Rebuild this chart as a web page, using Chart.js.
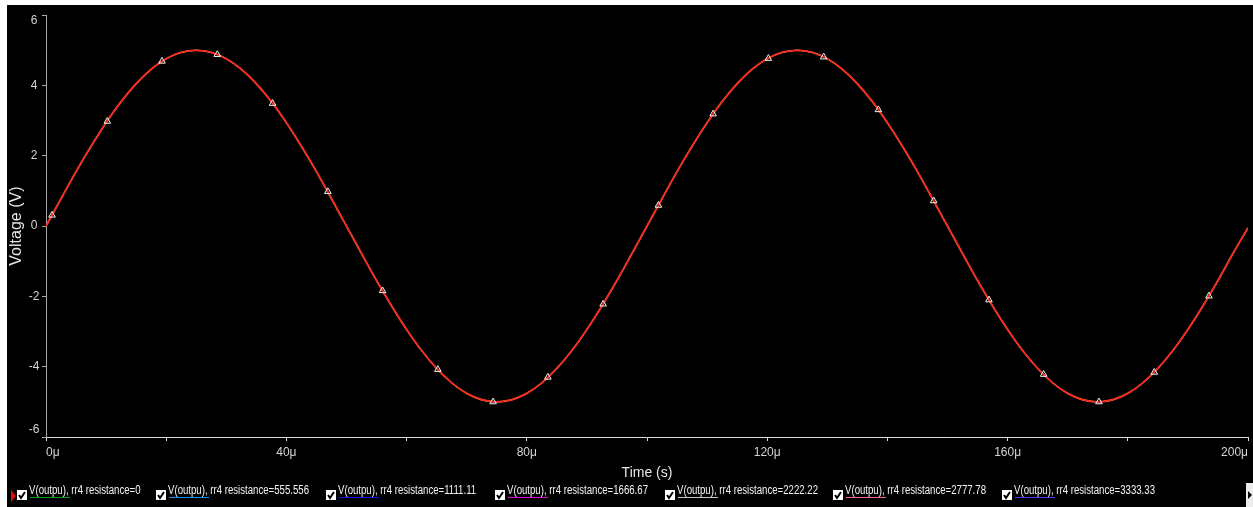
<!DOCTYPE html>
<html>
<head>
<meta charset="utf-8">
<script src="https://cdn.jsdelivr.net/npm/chart.js@4/dist/chart.umd.min.js"></script>
<style>
  html, body { margin: 0; padding: 0; background: #ffffff; width: 1253px; height: 507px; overflow: hidden; }
  #panel { position: absolute; left: 7px; top: 5px; width: 1246px; height: 502px; background: #000000; overflow: hidden; }
  #chart { position: absolute; left: 0; top: 0; }
  .item { position: absolute; top: 476px; height: 26px; }
  .cb { position: absolute; top: 9px; left: 0; width: 10px; height: 10px; background: #ffffff; }
  .cb svg { position: absolute; left: 0; top: 0; }
  .txt { position: absolute; top: 2px; white-space: nowrap; color: #f4f4f4; font: 12.5px "Liberation Sans", Arial, sans-serif; line-height: 14px; transform: scaleX(0.77); transform-origin: 0 0; }
  .ul { position: absolute; top: 16px; width: 40px; height: 1px; }
  #marker { position: absolute; left: 4px; top: 485px; width: 0; height: 0; border-left: 5px solid #e01010; border-top: 6px solid transparent; border-bottom: 6px solid transparent; }
  #scroll { position: absolute; left: 1239px; top: 478px; width: 8px; height: 24px; background: #ececec; }
  #scroll div { position: absolute; left: 2px; top: 8px; width: 0; height: 0; border-left: 4px solid #000; border-top: 4px solid transparent; border-bottom: 4px solid transparent; }
</style>
</head>
<body>
<div id="panel">
  <canvas id="chart" width="1246" height="479"></canvas>
  <div id="legend"></div>
  <div id="marker"></div>
  <div id="scroll"><div></div></div>
</div>
<script>
// ---- data (time in microseconds, voltage in volts) ----
const timeUs = [0,2.5,5,7.5,10,12.5,15,17.5,20,22.5,25,27.5,30,32.5,35,37.5,40,42.5,45,47.5,
  50,52.5,55,57.5,60,62.5,65,67.5,70,72.5,75,77.5,80,82.5,85,87.5,90,92.5,95,97.5,
  100,102.5,105,107.5,110,112.5,115,117.5,120,122.5,125,127.5,130,132.5,135,137.5,140,142.5,145,147.5,
  150,152.5,155,157.5,160,162.5,165,167.5,170,172.5,175,177.5,180,182.5,185,187.5,190,192.5,195,197.5,200];
const voltage = [0,0.78,1.55,2.27,2.94,3.54,4.05,4.46,4.76,4.94,5.00,4.94,4.76,4.46,4.05,3.54,2.94,2.27,1.55,0.78,
  0,-0.78,-1.55,-2.27,-2.94,-3.54,-4.05,-4.46,-4.76,-4.94,-5.00,-4.94,-4.76,-4.46,-4.05,-3.54,-2.94,-2.27,-1.55,-0.78,
  0,0.78,1.55,2.27,2.94,3.54,4.05,4.46,4.76,4.94,5.00,4.94,4.76,4.46,4.05,3.54,2.94,2.27,1.55,0.78,
  0,-0.78,-1.55,-2.27,-2.94,-3.54,-4.05,-4.46,-4.76,-4.94,-5.00,-4.94,-4.76,-4.46,-4.05,-3.54,-2.94,-2.27,-1.55,-0.78,-0.05];
const markerT = [1.0,10.2,19.3,28.5,37.7,46.9,56.0,65.2,74.4,83.5,92.7,101.9,111.0,120.2,129.4,138.5,147.7,156.9,166.0,175.2,184.4,193.5];
const markerV = [0.31,2.98,4.69,4.88,3.49,0.98,-1.84,-4.08,-5.00,-4.30,-2.22,0.59,3.19,4.77,4.81,3.31,0.72,-2.10,-4.22,-5.00,-4.16,-1.99];
const seriesNames = ['V(outpu), rr4 resistance=0','V(outpu), rr4 resistance=555.556','V(outpu), rr4 resistance=1111.11',
  'V(outpu), rr4 resistance=1666.67','V(outpu), rr4 resistance=2222.22','V(outpu), rr4 resistance=2777.78','V(outpu), rr4 resistance=3333.33'];
const seriesColors = ['#00a020','#1090ff','#1010ff','#e000e0','#c8c8c8','#ff6090','#6030ff'];
const legendX = [22,161,331,500,670,838,1007];   // x of each legend checkbox (panel px)
const xTickValues = [0,40,80,120,160,200];
const xTickLabels = ['0μ','40μ','80μ','120μ','160μ','200μ'];
const yTickValues = [-6,-4,-2,0,2,4,6];
const yTickLabels = ['-6','-4','-2','0','2','4','6'];

// ---- legend (HTML) ----
const legend = document.getElementById('legend');
seriesNames.forEach((name, i) => {
  const it = document.createElement('div');
  it.className = 'item';
  it.style.left = (legendX[i] - 12) + 'px';
  it.innerHTML = '<div class="cb"><svg width="10" height="10"><path d="M2 5 L4 8 L8 2" stroke="#000" stroke-width="2" fill="none"/></svg></div>' +
    '<div class="txt" style="left:12px">' + name + '</div>' +
    '<div class="ul" style="left:13px;background:' + seriesColors[i] + '"></div>';
  legend.appendChild(it);
});

// ---- chart ----
const pts = timeUs.map((t, i) => ({x: t, y: voltage[i]}));
const datasets = [];
datasets.push({
  label: 'markers', data: markerT.map((t, i) => ({x: t, y: markerV[i]})), showLine: false,
  pointStyle: 'triangle', pointRadius: 3.8, pointBorderWidth: 1, pointBorderColor: '#f4f4f4',
  pointBackgroundColor: 'rgba(0,0,0,0)', order: 0
});
datasets.push({
  label: 'top', data: pts, borderColor: '#f0281c', borderWidth: 1.2, pointRadius: 0,
  cubicInterpolationMode: 'monotone', order: 1
});
datasets.push({
  label: 'under', data: pts, borderColor: '#ff4a22', borderWidth: 1.9, pointRadius: 0,
  cubicInterpolationMode: 'monotone', order: 2
});
seriesNames.forEach((name, i) => {
  datasets.push({
    label: name, data: pts, borderColor: seriesColors[i], borderWidth: 1, pointRadius: 0,
    cubicInterpolationMode: 'monotone', order: 3 + (seriesNames.length - i)
  });
});

const labelPlugin = {
  id: 'axisLabels',
  afterDraw(chart) {
    const ctx = chart.ctx, sx = chart.scales.x, sy = chart.scales.y, ca = chart.chartArea;
    ctx.save();
    ctx.font = '12px "Liberation Sans", Arial, sans-serif';
    ctx.fillStyle = '#d4d4d4';
    ctx.textBaseline = 'top';
    ctx.textAlign = 'left';
    xTickValues.forEach((v, i) => {
      const px = sx.getPixelForValue(v);
      const w = ctx.measureText(xTickLabels[i]).width;
      let left = px - w / 2;
      if (left < ca.left) left = ca.left;
      if (left + w > ca.right) left = ca.right - w;
      ctx.fillText(xTickLabels[i], left, ca.bottom + 10);
    });
    ctx.textAlign = 'center';
    ctx.textBaseline = 'middle';
    yTickValues.forEach((v, i) => {
      let py = sy.getPixelForValue(v);
      if (py < ca.top + 5) py = ca.top + 5;
      if (py > ca.bottom - 7) py = ca.bottom - 7;
      ctx.fillText(yTickLabels[i], 27, py);
    });
    ctx.restore();
  }
};

new Chart(document.getElementById('chart'), {
  type: 'line',
  data: { datasets },
  plugins: [labelPlugin],
  options: {
    responsive: false, animation: false, devicePixelRatio: 1,
    layout: { padding: { left: 0, right: 2, top: 7, bottom: 0 } },
    plugins: { legend: { display: false }, tooltip: { enabled: false } },
    scales: {
      x: {
        type: 'linear', min: 0, max: 200,
        afterFit(s) { s.height = 47; },
        border: { color: '#dcdcdc', width: 1 },
        grid: { drawOnChartArea: false, color: '#dcdcdc', tickLength: 4 },
        ticks: { stepSize: 20, callback: () => '', maxRotation: 0 },
        title: { display: true, text: 'Time (s)', color: '#e6e6e6', font: { size: 14, family: '"Liberation Sans", Arial, sans-serif' }, padding: { top: 0, bottom: 2 } }
      },
      y: {
        type: 'linear', min: -6, max: 6,
        afterFit(s) { s.width = 39; },
        afterBuildTicks(s) { s.ticks = yTickValues.map(v => ({value: v})); },
        border: { color: '#a8a8a8', width: 1 },
        grid: { drawOnChartArea: false, color: '#a8a8a8', tickLength: 4 },
        ticks: { callback: () => '', padding: 3, font: { size: 12 } },
        title: { display: true, text: 'Voltage (V)', color: '#e6e6e6', font: { size: 16, family: '"Liberation Sans", Arial, sans-serif' }, padding: { top: 0, bottom: 0 } }
      }
    }
  }
});
</script>
</body>
</html>
